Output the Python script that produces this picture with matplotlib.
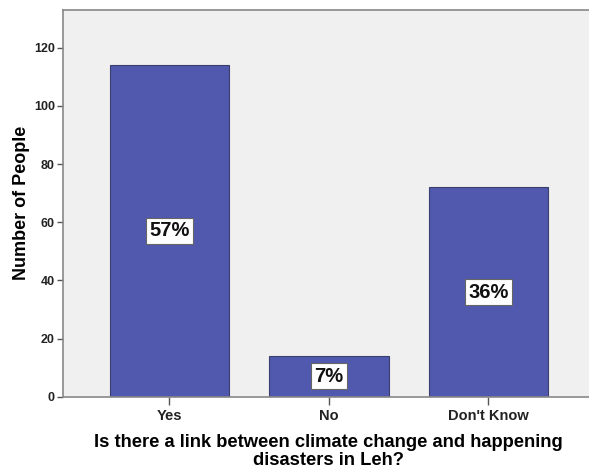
import matplotlib.pyplot as plt

# survey answers and counts
answers = ["Yes", "No", "Don't Know"]
counts = [114, 14, 72]
percent_labels = ["57%", "7%", "36%"]

plt.rcParams['font.family'] = ['Liberation Sans', 'DejaVu Sans']

fig = plt.figure(figsize=(5.89, 4.68), dpi=100)
ax = fig.add_axes([0.1075, 0.1524, 0.8925, 0.8262])
ax.set_facecolor('#f0f0f0')

xs = range(len(answers))
bars = ax.bar(xs, counts, width=0.75, color='#5059ad', edgecolor='#3a3f6e', linewidth=0.8, zorder=2)

# percentage boxes in the middle of each bar
for bar, lab in zip(bars, percent_labels):
    ax.text(bar.get_x() + bar.get_width() / 2, bar.get_height() / 2, lab,
            ha='center', va='center', fontsize=14.5, fontweight='bold', color='#111111',
            bbox=dict(boxstyle='square,pad=0.18', facecolor='white', edgecolor='#666666', linewidth=0.8),
            zorder=3)

ax.set_xlim(-0.665, 2.63)
ax.set_ylim(0, 133)
ax.set_yticks([0, 20, 40, 60, 80, 100, 120])
ax.set_xticks(list(xs))
ax.set_xticklabels(answers)

for side in ['left', 'bottom', 'top']:
    ax.spines[side].set_color('#888888')
    ax.spines[side].set_linewidth(1.2)
ax.spines['right'].set_visible(False)

ax.tick_params(axis='both', colors='#555555', width=1.0, labelcolor='#222222')
ax.tick_params(axis='x', length=6, labelsize=10.5, pad=3)
ax.tick_params(axis='y', length=4, labelsize=9, pad=2)
for t in ax.get_xticklabels() + ax.get_yticklabels():
    t.set_fontweight('bold')

ax.set_ylabel("Number of People", fontsize=13, fontweight='bold')
ax.yaxis.set_label_coords(-0.0625, 0.50)
ax.set_xlabel("Is there a link between climate change and happening\ndisasters in Leh?",
              fontsize=13.2, fontweight='bold', linespacing=1.05)
ax.xaxis.set_label_coords((329 - 63.3) / 526.7, -0.097)

fig.savefig('out.png', dpi=100)
